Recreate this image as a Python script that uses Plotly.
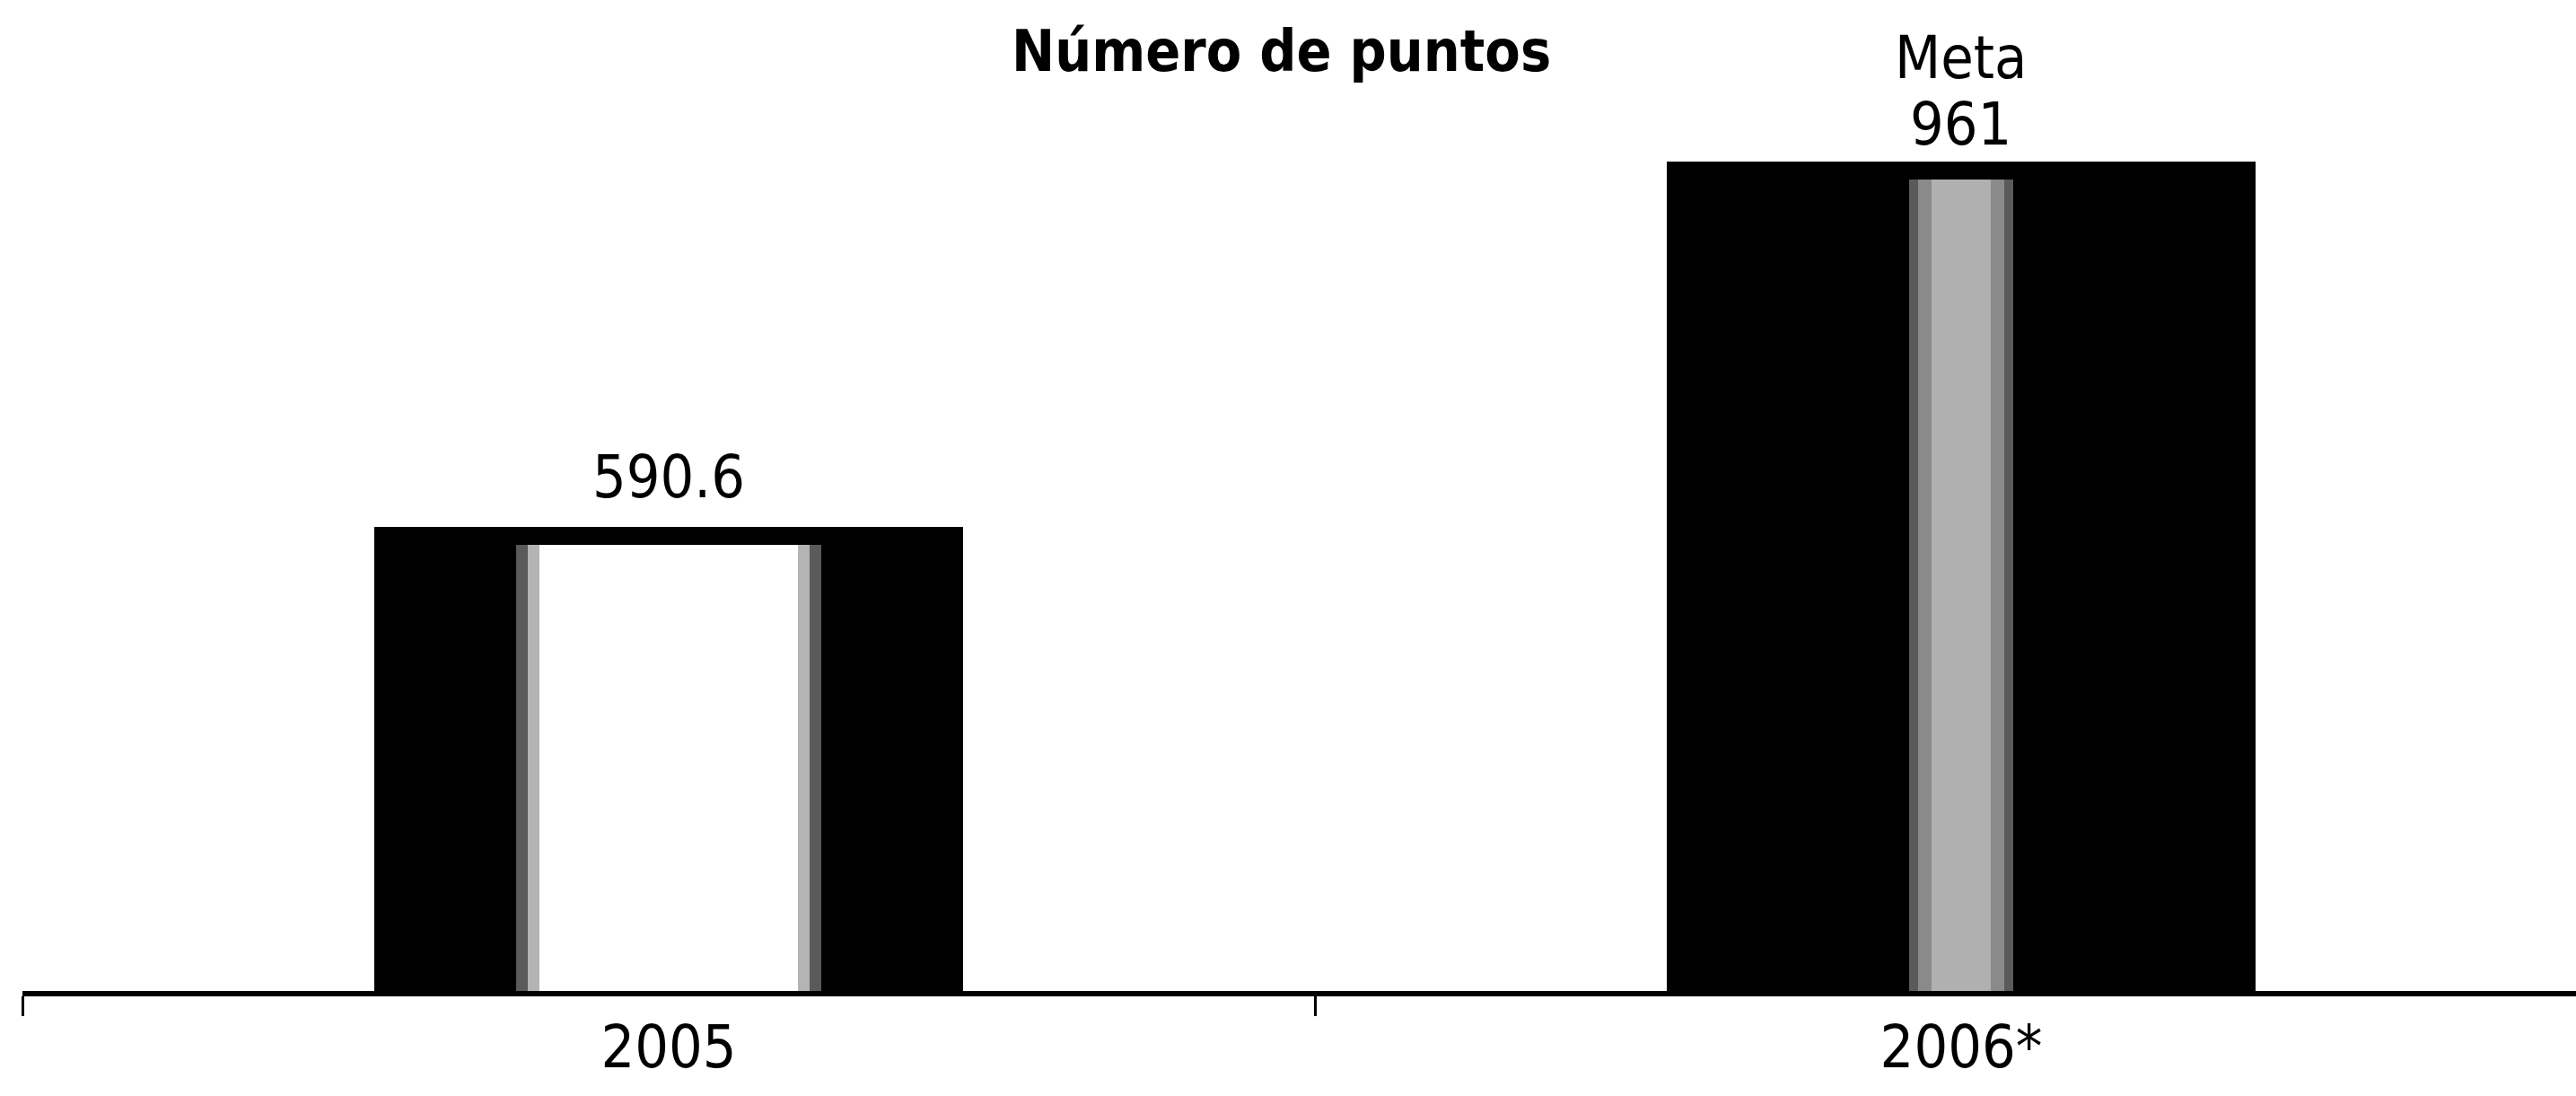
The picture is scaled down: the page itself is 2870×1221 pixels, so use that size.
import plotly.graph_objects as go

# Data
categories = ["2005", "2006*"]
points = [590.6, 961]
top_notes = ["", "Meta"]
title_text = "Número de puntos"

# Styling
FONT = "Noto Sans Condensed, Liberation Sans Narrow, DejaVu Sans Condensed, sans-serif"
FONT_SIZE = 66
TITLE_SIZE = 64
BAR_W = 0.455
OUTLINE = 20                      # px, stroke around the bar (half falls inside)
UNIT_PX = 1440                    # px per category on the x axis
band_w = [[0.236, 0.080], [0.218, 0.066], [0.200, 0.046]]
band_c = [["#5a5a5a", "#5a5a5a"], ["#b4b4b4", "#8a8a8a"], ["#ffffff", "#b0b0b0"]]
label_shift = [25, 11]            # px between value position and label box
note_gap = 74                     # px between the two label lines

fig = go.Figure()

# dark body of each bar
fig.add_trace(go.Bar(x=categories, y=points, width=[BAR_W] * 2,
                     marker=dict(color="#000000", line=dict(width=0)),
                     hoverinfo="skip"))
# lighter vertical bands, brightest in the middle
for w, c in zip(band_w, band_c):
    fig.add_trace(go.Bar(x=categories, y=points, width=w,
                         marker=dict(color=c, line=dict(width=0)),
                         hoverinfo="skip"))
# black rim on top
fig.add_trace(go.Bar(x=categories, y=points,
                     width=[BAR_W - OUTLINE / UNIT_PX] * 2,
                     marker=dict(color="rgba(0,0,0,0)",
                                 line=dict(color="#000000", width=OUTLINE)),
                     hoverinfo="skip"))

# value labels (category index used as x so numeric-looking names stay categories)
annotations = []
for i, (val, note, shift) in enumerate(zip(points, top_notes, label_shift)):
    annotations.append(dict(x=i, y=val, xref="x", yref="y", text=f"{val:g}",
                            showarrow=False, yanchor="bottom", yshift=shift,
                            font=dict(family=FONT, size=FONT_SIZE, color="#000000")))
    if note:
        annotations.append(dict(x=i, y=val, xref="x", yref="y", text=note,
                                showarrow=False, yanchor="bottom",
                                yshift=shift + note_gap,
                                font=dict(family=FONT, size=FONT_SIZE, color="#000000")))

annotations.append(dict(x=(1427 - 25) / 2845, y=0.984, xref="paper", yref="paper",
                        text=f"<b>{title_text}</b>", showarrow=False,
                        xanchor="center", yanchor="top",
                        font=dict(family=FONT, size=TITLE_SIZE, color="#000000")))

fig.update_layout(
    width=2870, height=1221,
    margin=dict(l=25, r=0, t=0, b=117),
    paper_bgcolor="#ffffff", plot_bgcolor="#ffffff",
    barmode="overlay", bargap=0, showlegend=False,
    annotations=annotations,
    xaxis=dict(type="category", range=[-0.5, 1.4757],
               showline=True, linewidth=6, linecolor="#000000",
               ticks="outside", tickson="boundaries", ticklen=22,
               tickwidth=3, tickcolor="#000000", showgrid=False,
               tickfont=dict(family=FONT, size=FONT_SIZE, color="#000000"),
               fixedrange=True),
    yaxis=dict(range=[129.2, 1133.9], visible=False, showgrid=False,
               zeroline=False, fixedrange=True),
)

fig.write_html("out.html")
